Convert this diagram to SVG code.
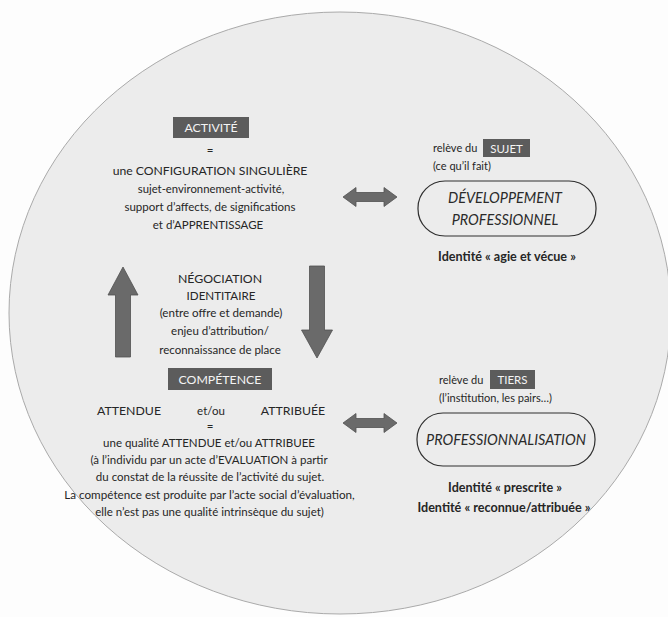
<svg xmlns="http://www.w3.org/2000/svg" width="668" height="617" viewBox="0 0 668 617">
  <style>
    text { font-family: "Lato", "Open Sans", "Liberation Sans", sans-serif; fill: #262626; text-anchor: middle; }
    .t { font-size: 11.5px; }
    .caps { font-size: 12.3px; }
    .lbl { font-size: 12.3px; fill: #f4f4f4; }
    .small { font-size: 11px; text-anchor: start; }
    .ital { font-style: italic; font-size: 14.4px; fill: #2a2a2a; }
    .bold { font-weight: bold; font-size: 12.6px; }
    .tag { fill: #5c5c5c; }
    .pill { fill: none; stroke: #2e2e2e; stroke-width: 1.2; }
    .arrow { fill: #6a6a6a; stroke: #505050; stroke-width: 0.8; stroke-linejoin: miter; }
  </style>

  <!-- page and round backdrop -->
  <rect x="0" y="0" width="668" height="617" fill="#fdfdfd"/>
  <ellipse cx="340" cy="313" rx="331" ry="301" fill="#ececec" stroke="#aaaaaa" stroke-width="1"/>

  <!-- ACTIVITÉ -->
  <g id="node-activite">
    <rect class="tag" x="173" y="117" width="76" height="21"/>
    <text class="lbl" x="211" y="132">ACTIVITÉ</text>
    <text class="t" x="210" y="154">=</text>
    <text x="210" y="174.5" style="font-size:12.2px">une CONFIGURATION SINGULIÈRE</text>
    <text class="t" x="211" y="193" style="font-size:11.3px">sujet-environnement-activité,</text>
    <text class="t" x="210" y="211">support d’affects, de significations</text>
    <text class="t" x="208" y="228.5">et d’APPRENTISSAGE</text>
  </g>

  <!-- relève du SUJET -->
  <g id="node-sujet">
    <text class="small" x="433" y="152">relève du</text>
    <rect class="tag" x="483" y="139" width="47" height="18"/>
    <text class="lbl" x="506.5" y="152.5" style="font-size:11.5px">SUJET</text>
    <text class="small" x="433" y="170">(ce qu’il fait)</text>
  </g>

  <!-- DÉVELOPPEMENT PROFESSIONNEL -->
  <g id="node-developpement">
    <rect class="pill" x="418" y="181" width="178" height="55" rx="27" ry="27"/>
    <text class="ital" x="505" y="203">DÉVELOPPEMENT</text>
    <text class="ital" x="505" y="225">PROFESSIONNEL</text>
    <text class="bold" x="507" y="261">Identité « agie et vécue »</text>
  </g>

  <!-- NÉGOCIATION IDENTITAIRE -->
  <g id="node-negociation">
    <text class="caps" x="220" y="282.5">NÉGOCIATION</text>
    <text class="t" x="221" y="299.5" style="font-size:11.6px">IDENTITAIRE</text>
    <text class="t" x="221" y="317" style="font-size:11.6px">(entre offre et demande)</text>
    <text class="t" x="220" y="335">enjeu d’attribution/</text>
    <text class="t" x="220" y="353.5">reconnaissance de place</text>
  </g>

  <!-- COMPÉTENCE -->
  <g id="node-competence">
    <rect class="tag" x="168" y="368" width="104" height="22"/>
    <text class="lbl" x="220" y="383.5">COMPÉTENCE</text>
    <text class="caps" x="129" y="414.5">ATTENDUE</text>
    <text class="t" x="211" y="414.5">et/ou</text>
    <text class="caps" x="293" y="414.5">ATTRIBUÉE</text>
    <text class="t" x="210" y="430">=</text>
    <text class="t" x="209" y="447">une qualité ATTENDUE et/ou ATTRIBUEE</text>
    <text class="t" x="209" y="464">(à l’individu par un acte d’EVALUATION à partir</text>
    <text class="t" x="210" y="481">du constat de la réussite de l’activité du sujet.</text>
    <text class="t" x="209.5" y="499" style="font-size:11.7px">La compétence est produite par l’acte social d’évaluation,</text>
    <text class="t" x="209.5" y="516">elle n’est pas une qualité intrinsèque du sujet)</text>
  </g>

  <!-- relève du TIERS -->
  <g id="node-tiers">
    <text class="small" x="439" y="383.5">relève du</text>
    <rect class="tag" x="490" y="370" width="45" height="19"/>
    <text class="lbl" x="512.5" y="384" style="font-size:11.5px">TIERS</text>
    <text class="small" x="439" y="402">(l’institution, les pairs…)</text>
  </g>

  <!-- PROFESSIONNALISATION -->
  <g id="node-professionnalisation">
    <rect class="pill" x="417" y="413" width="178" height="53" rx="26" ry="26"/>
    <text class="ital" x="506" y="445">PROFESSIONNALISATION</text>
    <text class="bold" x="505" y="492">Identité « prescrite »</text>
    <text class="bold" x="504" y="512">Identité « reconnue/attribuée »</text>
  </g>

  <!-- connectors: block arrows -->
  <g id="connectors">
    <!-- ACTIVITÉ <-> DÉVELOPPEMENT -->
    <polygon class="arrow" points="343,197 356,187.5 356,192.5 384,192.5 384,187.5 397,197 384,206.5 384,201.5 356,201.5 356,206.5"/>
    <!-- COMPÉTENCE <-> PROFESSIONNALISATION -->
    <polygon class="arrow" points="343,423 356,413.5 356,418.5 384,418.5 384,413.5 397,423 384,432.5 384,427.5 356,427.5 356,432.5"/>
    <!-- COMPÉTENCE up to ACTIVITÉ -->
    <polygon class="arrow" points="123,267 138,295 130.5,295 130.5,357 115.5,357 115.5,295 108,295"/>
    <!-- ACTIVITÉ down to COMPÉTENCE -->
    <polygon class="arrow" points="309.5,266 324.5,266 324.5,330 332.5,330 317,358 301.5,330 309.5,330"/>
  </g>
</svg>
